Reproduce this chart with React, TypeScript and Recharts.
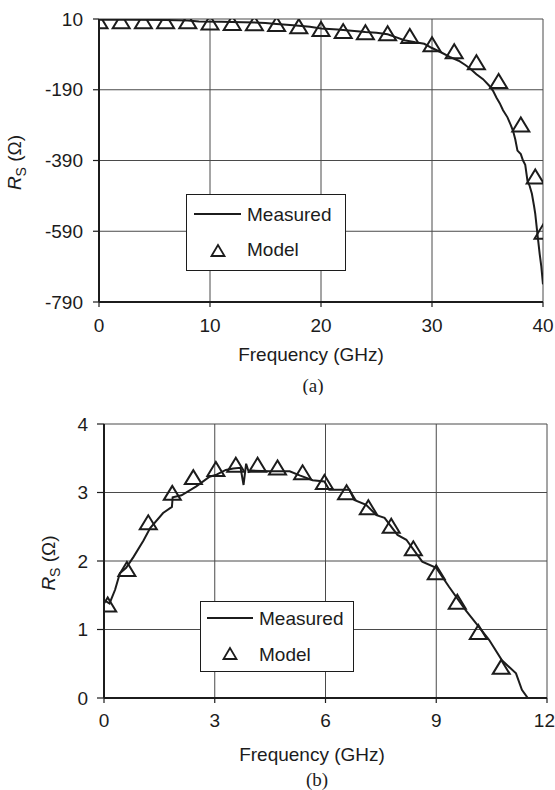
import React from 'react';
import { ComposedChart, Line, Scatter, XAxis, YAxis, CartesianGrid, Legend } from 'recharts';

// ---------- data: chart (a) ----------
const topTicksX = [0, 10, 20, 30, 40];
const topTicksY = [-790, -590, -390, -190, 10];
const topMeasFreq = [0, 3, 6, 8, 9, 11, 13, 15, 16, 17.5, 19, 20, 21.5, 23, 24, 25, 26, 26.8, 27.5, 28.5, 29.3, 30, 30.8, 31.6, 32.4, 33, 33.4, 34, 34.6, 35.2, 35.5, 35.8, 36.1, 36.4, 36.8, 37.1, 37.3, 37.5, 37.7, 38, 38.2, 38.4, 38.6, 38.8, 39, 39.2, 39.3, 39.5, 39.7, 39.85, 40];
const topMeasRs = [8, 8, 7, 6, 3, 2, 1, -1, -4, -8, -12, -17, -20, -24, -27, -29, -33, -42, -50, -56, -60, -72, -84, -97, -108, -120, -129, -146, -160, -180, -193, -212, -228, -248, -268, -290, -306, -330, -362, -372, -390, -402, -447, -462, -484, -520, -540, -598, -654, -690, -740];
const topModelFreq = [0, 2, 4, 6, 8, 10, 12, 14, 16, 18, 20, 22, 24, 26, 28, 30, 32, 34, 36, 38, 39.3, 40];
const topModelRs = [1, 1, 1, 1, 1, -3, -4, -5, -7, -13, -21, -27, -30, -33, -41, -64, -84, -115, -168, -291, -438, -594];

// ---------- data: chart (b) ----------
const botTicksX = [0, 3, 6, 9, 12];
const botTicksY = [0, 1, 2, 3, 4];
const botMeasFreq = [0, 0.15, 0.3, 0.43, 0.6, 0.8, 1.07, 1.25, 1.6, 1.84, 1.86, 2.1, 2.5, 2.86, 3.05, 3.3, 3.5, 3.7, 3.78, 3.85, 3.92, 4.0, 4.5, 5.03, 5.3, 5.65, 5.97, 6.1, 6.4, 6.65, 6.78, 7.1, 7.38, 7.6, 7.95, 8.19, 8.62, 9.0, 9.35, 9.8, 10.08, 10.43, 10.78, 11.16, 11.32, 11.65];
const botMeasRs = [1.43, 1.38, 1.58, 1.82, 1.9, 2.06, 2.3, 2.48, 2.7, 2.79, 2.93, 2.96, 3.09, 3.23, 3.26, 3.33, 3.35, 3.36, 3.11, 3.42, 3.3, 3.32, 3.31, 3.31, 3.25, 3.18, 3.16, 3.04, 3.04, 3.04, 2.89, 2.82, 2.67, 2.63, 2.38, 2.31, 1.99, 1.9, 1.62, 1.28, 1.09, 0.85, 0.55, 0.36, 0.12, -0.13];
const botModelFreq = [0.1, 0.62, 1.2, 1.85, 2.42, 3.03, 3.57, 4.16, 4.7, 5.38, 5.97, 6.57, 7.16, 7.78, 8.38, 9.0, 9.57, 10.14, 10.76];
const botModelRs = [1.35, 1.87, 2.55, 2.98, 3.21, 3.33, 3.39, 3.39, 3.35, 3.28, 3.14, 2.99, 2.77, 2.5, 2.17, 1.82, 1.39, 0.95, 0.44];

const zip = (xs: number[], ys: number[]) => xs.map((x, i) => ({ x, y: ys[i] }));
const topMeasured = zip(topMeasFreq, topMeasRs);
const topModel = zip(topModelFreq, topModelRs);
const botMeasured = zip(botMeasFreq, botMeasRs);
const botModel = zip(botModelFreq, botModelRs);

const FONT = '"Liberation Sans", Arial, Helvetica, sans-serif';
const SERIF = '"Liberation Serif", "Times New Roman", serif';
const INK = '#1c1c1c';
const FS = 19;

const Triangle = (props: any) => {
  const { cx, cy } = props;
  if (cx == null || cy == null) return null;
  return (
    <polygon
      points={`${cx},${cy - 8} ${cx - 8.5},${cy + 6} ${cx + 8.5},${cy + 6}`}
      fill="none"
      stroke={INK}
      strokeWidth={2}
    />
  );
};

const makeYLabel = (dxCenter: number) => (props: any) => {
  const vb = props.viewBox || {};
  const x = vb.x + dxCenter;
  const y = vb.y + vb.height / 2 + 2;
  return (
    <text x={x} y={y} transform={`rotate(-90, ${x}, ${y})`} textAnchor="middle" fontFamily={FONT} fontSize={FS} fill={INK}>
      <tspan fontStyle="italic">R</tspan>
      <tspan fontSize={14} dy={5}>S</tspan>
      <tspan dy={-5}>{'  (Ω)'}</tspan>
    </text>
  );
};

const makeXLabel = (dxCenter: number, dyTitle: number, capDx: number, dyCap: number, cap: string) => (props: any) => {
  const vb = props.viewBox || {};
  return (
    <g>
      <text x={vb.x + dxCenter} y={vb.y + dyTitle} textAnchor="middle" fontFamily={FONT} fontSize={FS} fill={INK}>
        Frequency (GHz)
      </text>
      <text x={vb.x + capDx} y={vb.y + dyCap} textAnchor="middle" fontFamily={SERIF} fontSize={19} fill={INK}>
        {cap}
      </text>
    </g>
  );
};

const makeLegend = (w: number, h: number, lx1: number, lx2: number, ly: number, tx: number, ty: number, textX: number, my: number) => () => (
  <div style={{ position: 'relative', width: w, height: h, border: `1.5px solid ${INK}`, background: '#fff', boxSizing: 'border-box' }}>
    <svg width={w} height={h} style={{ position: 'absolute', left: -1.5, top: -1.5 }}>
      <line x1={lx1} y1={ly} x2={lx2} y2={ly} stroke={INK} strokeWidth={2} />
      <text x={textX} y={ly + 7} fontFamily={FONT} fontSize={FS} fill={INK}>Measured</text>
      <polygon points={`${tx},${ty - 6} ${tx - 6.5},${ty + 5} ${tx + 6.5},${ty + 5}`} fill="none" stroke={INK} strokeWidth={1.8} />
      <text x={textX} y={my + 7} fontFamily={FONT} fontSize={FS} fill={INK}>Model</text>
    </svg>
  </div>
);

const tickStyle = { fill: INK, fontSize: FS, fontFamily: FONT };

// bottom x ticks: keep the last label ("12") inside the page edge
const BotXTick = (props: any) => {
  const { x, y, payload } = props;
  const last = payload.value === botTicksX[botTicksX.length - 1];
  return (
    <text x={last ? x + 8 : x} y={y} dy="0.71em" textAnchor={last ? 'end' : 'middle'} fontFamily={FONT} fontSize={FS} fill={INK}>
      {payload.value}
    </text>
  );
};

export default function App() {
  return (
    <div style={{ position: 'absolute', left: 0, top: 0, width: 555, height: 790, background: '#fff' }}>
      <div style={{ position: 'absolute', left: 0, top: 0 }}>
        <ComposedChart width={555} height={395} margin={{ top: 19, right: 12, bottom: 0, left: 0 }}>
          <CartesianGrid stroke="#4a4a4a" strokeWidth={1} />
          <XAxis
            type="number"
            dataKey="x"
            domain={[0, 40]}
            ticks={topTicksX}
            interval={0}
            allowDataOverflow
            height={93}
            tick={tickStyle}
            tickSize={5}
            tickMargin={12}
            axisLine={{ stroke: INK, strokeWidth: 2 }}
            tickLine={{ stroke: INK, strokeWidth: 1.2 }}
            label={{ content: makeXLabel(212, 59, 214, 90, '(a)') }}
          />
          <YAxis
            type="number"
            dataKey="y"
            domain={[-790, 10]}
            ticks={topTicksY}
            interval={0}
            allowDataOverflow
            width={99}
            tick={tickStyle}
            tickSize={6}
            tickMargin={10}
            axisLine={{ stroke: INK, strokeWidth: 2 }}
            tickLine={{ stroke: INK, strokeWidth: 1.2 }}
            label={{ content: makeYLabel(21) }}
          />
          <Line data={topMeasured} dataKey="y" type="linear" stroke={INK} strokeWidth={2} dot={false} isAnimationActive={false} />
          <Scatter data={topModel} dataKey="y" shape={Triangle} isAnimationActive={false} />
          <Legend
            layout="vertical"
            align="center"
            verticalAlign="middle"
            content={makeLegend(160, 77, 8, 55, 20, 32, 57, 61, 55)}
            wrapperStyle={{ position: 'absolute', left: 186, top: 194, width: 160, height: 77, margin: 0 }}
          />
        </ComposedChart>
      </div>
      <div style={{ position: 'absolute', left: 0, top: 400 }}>
        <ComposedChart width={555} height={390} margin={{ top: 24, right: 8, bottom: 0, left: 0 }}>
          <CartesianGrid stroke="#4a4a4a" strokeWidth={1} />
          <XAxis
            type="number"
            dataKey="x"
            domain={[0, 12]}
            ticks={botTicksX}
            interval={0}
            allowDataOverflow
            height={92}
            tick={<BotXTick />}
            tickSize={5}
            tickMargin={11}
            axisLine={{ stroke: INK, strokeWidth: 2 }}
            tickLine={{ stroke: INK, strokeWidth: 1.2 }}
            label={{ content: makeXLabel(208, 63, 213, 88, '(b)') }}
          />
          <YAxis
            type="number"
            dataKey="y"
            domain={[0, 4]}
            ticks={botTicksY}
            interval={0}
            allowDataOverflow
            width={104}
            tick={tickStyle}
            tickSize={7}
            tickMargin={9}
            axisLine={{ stroke: INK, strokeWidth: 2 }}
            tickLine={{ stroke: INK, strokeWidth: 1.2 }}
            label={{ content: makeYLabel(55) }}
          />
          <Line data={botMeasured} dataKey="y" type="linear" stroke={INK} strokeWidth={2} dot={false} isAnimationActive={false} />
          <Scatter data={botModel} dataKey="y" shape={Triangle} isAnimationActive={false} />
          <Legend
            layout="vertical"
            align="center"
            verticalAlign="middle"
            content={makeLegend(154, 71, 7, 53, 17, 30, 53, 59, 53)}
            wrapperStyle={{ position: 'absolute', left: 200, top: 201, width: 154, height: 71, margin: 0 }}
          />
        </ComposedChart>
      </div>
    </div>
  );
}
